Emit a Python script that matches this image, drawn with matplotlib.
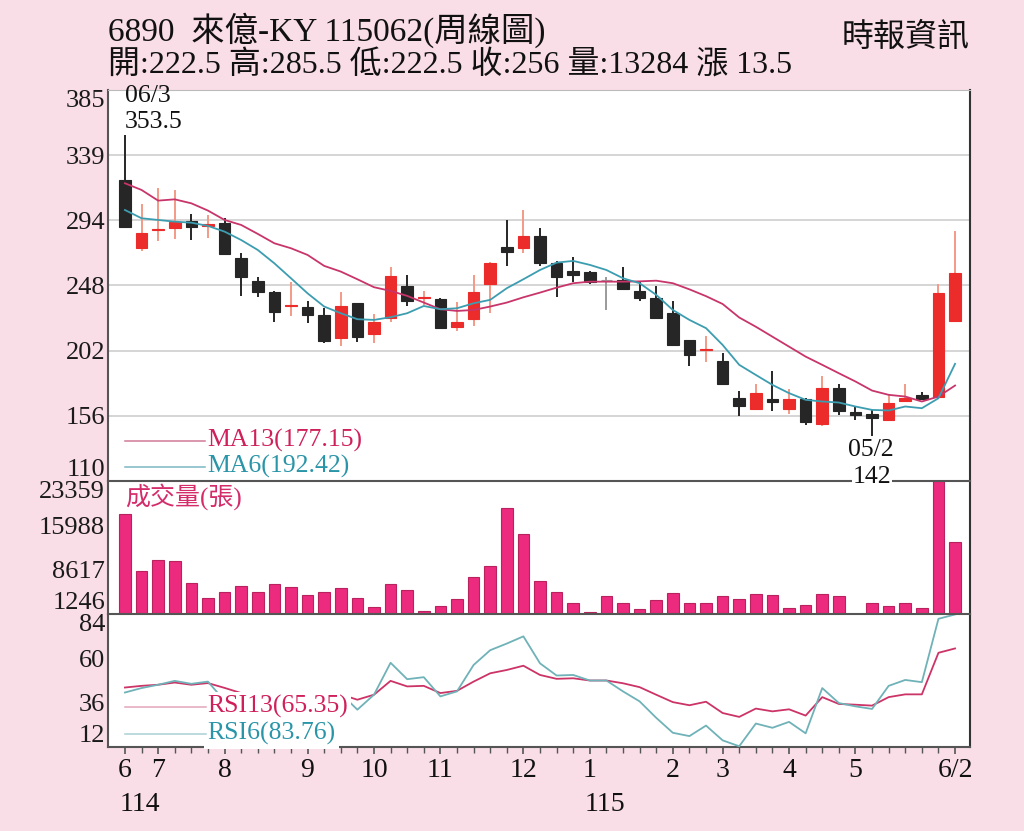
import numpy as np
import matplotlib
matplotlib.use("Agg")
import matplotlib.pyplot as plt
import matplotlib.transforms as mtransforms

plt.rcParams['font.family'] = ['Liberation Serif', 'Noto Sans CJK TC', 'DejaVu Sans']

# ============================================================
# Weekly data (index 0 = first week of 114/06)
# ============================================================
opens = [321.7, 274.1, 286.3, 288.2, 292.6, 289.6, 291.7, 267.1, 250.7, 243.2,
         233.0, 232.4, 226.8, 210.4, 235.5, 213.5, 224.5, 247.4, 238.5, 237.8,
         218.6, 224.0, 248.6, 274.8, 274.1, 282.6, 263.1, 257.7, 256.8, 251.5,
         251.4, 243.9, 238.5, 228.5, 209.2, 201.8, 194.5, 168.7, 160.7, 167.8,
         160.5, 167.8, 149.9, 175.3, 158.4, 157.2, 153.0, 166.4, 170.6, 168.9,
         222.5]
highs = [353.5, 304.8, 315.8, 314.7, 297.8, 297.1, 295.2, 270.6, 253.3, 243.7,
         250.2, 236.9, 231.5, 242.7, 235.5, 227.3, 260.8, 254.9, 243.9, 238.5,
         236.2, 254.9, 263.8, 293.6, 300.6, 287.7, 264.8, 267.8, 258.0, 253.3,
         260.8, 250.2, 247.4, 236.5, 209.2, 211.8, 200.3, 173.3, 178.1, 187.5,
         175.0, 168.2, 183.9, 178.1, 161.9, 160.0, 171.3, 178.1, 172.5, 248.6,
         285.5]
lows = [288.0, 272.0, 278.8, 280.2, 279.5, 281.2, 269.0, 240.2, 239.2, 221.7,
        226.3, 221.4, 206.9, 204.6, 208.1, 207.4, 221.7, 233.4, 233.8, 217.5,
        215.8, 219.3, 228.5, 261.5, 270.6, 261.3, 239.7, 250.2, 248.4, 230.3,
        244.9, 236.9, 223.8, 205.7, 191.0, 193.8, 177.6, 155.8, 160.7, 159.0,
        157.0, 149.5, 149.0, 156.5, 153.0, 142.0, 152.5, 165.4, 167.5, 168.9,
        222.5]
closes = [288.5, 284.2, 287.5, 292.4, 288.9, 290.8, 269.7, 253.5, 243.2, 228.7,
          233.8, 226.8, 208.8, 233.4, 211.1, 221.7, 254.2, 236.9, 239.5, 217.9,
          221.7, 242.7, 263.6, 271.3, 282.6, 263.1, 253.8, 254.9, 250.2, 251.5,
          244.9, 238.5, 224.5, 205.9, 198.7, 202.6, 178.3, 162.4, 171.8, 165.6,
          167.5, 151.4, 175.3, 158.9, 156.5, 154.2, 165.2, 168.2, 167.5, 242.5,
          256.0]
volumes = [17860, 8390, 10156, 10045, 6418, 3941, 4926, 5916, 4821, 6306,
           5756, 4381, 4926, 5646, 3941, 2346, 6196, 5316, 1796, 2621,
           3666, 7406, 9276, 18790, 14556, 6691, 4926, 3111, 1631, 4216,
           3111, 2071, 3556, 4766, 3111, 3006, 4216, 3721, 4546, 4381,
           2236, 2731, 4546, 4216, 1246, 3111, 2566, 3111, 2291, 23359,
           13284]
ma13 = [319.4, 314.7, 307.2, 308.1, 305.3, 300.2, 293.6, 290.1, 283.8, 277.2,
        273.7, 269.0, 261.3, 257.3, 251.9, 246.3, 243.7, 240.2, 235.5, 230.8,
        229.6, 230.3, 232.7, 235.5, 239.2, 242.5, 246.0, 249.1, 250.2, 250.2,
        250.2, 250.4, 250.9, 249.1, 244.8, 240.0, 234.5, 225.0, 218.5, 211.5,
        204.5, 197.5, 191.7, 185.8, 180.0, 173.6, 170.6, 169.4, 165.9, 169.4,
        177.15]
ma6 = [300.6, 294.8, 293.6, 292.4, 291.7, 289.4, 285.4, 279.5, 272.5, 263.1,
       252.6, 242.0, 232.7, 228.0, 223.8, 223.3, 225.2, 228.0, 233.1, 230.8,
       231.5, 235.0, 237.4, 245.6, 251.9, 258.4, 263.6, 264.8, 262.0, 258.4,
       252.6, 249.1, 240.9, 230.3, 223.3, 217.5, 205.7, 191.7, 184.6, 177.6,
       171.8, 167.1, 165.9, 165.2, 162.4, 160.0, 159.6, 162.4, 161.2, 168.2,
       192.42]
# weeks 7-12 sit behind the legend text and cannot be read
rsi13 = [44.2, 45.1, 45.7, 46.9, 45.7, 46.6, 44.0, 41.2, 36.0, 34.0,
         33.0, 33.0, 32.5, 40.5, 37.6, 40.3, 47.8, 44.8, 45.1, 41.2,
         42.4, 47.4, 51.9, 53.7, 56.0, 51.0, 48.9, 49.2, 48.0, 48.0,
         46.5, 44.4, 40.3, 36.3, 34.6, 36.5, 30.4, 28.3, 32.8, 31.3,
         32.4, 29.0, 39.0, 35.3, 34.9, 34.4, 39.0, 40.5, 40.5, 63.0,
         65.35]
rsi6 = [41.5, 43.9, 45.7, 47.8, 46.2, 47.4, 37.0, 31.0, 22.0, 19.0,
        20.0, 18.0, 19.0, 41.0, 32.2, 40.3, 57.6, 48.7, 49.8, 39.4,
        42.1, 56.4, 64.4, 68.0, 71.9, 57.3, 50.7, 51.0, 48.0, 48.0,
        42.1, 36.7, 27.8, 19.7, 17.9, 23.6, 15.6, 12.4, 24.7, 22.4,
        25.6, 19.4, 43.9, 35.8, 34.0, 32.6, 45.1, 48.3, 47.1, 81.4,
        83.76]

month_idx = [0, 2, 6, 11, 15, 19, 24, 28, 33, 36, 40, 44, 50]
month_labels = ['6', '7', '8', '9', '10', '11', '12', '1', '2', '3', '4', '5', '6/2']
year_idx = [0, 28]
year_labels = ['114', '115']

price_ticks = [110, 155.83, 201.67, 247.5, 293.33, 339.17, 385]
price_tick_labels = ['110', '156', '202', '248', '294', '339', '385']
vol_ticks = [1246, 8617, 15988, 23359]
rsi_ticks = [12, 36, 60, 84]

title = '6890  來億-KY 115062(周線圖)'
subtitle = '開:222.5 高:285.5 低:222.5 收:256 量:13284 漲 13.5'
source = '時報資訊'

# ============================================================
# Styles
# ============================================================
BG = '#f9dde7'
UP = '#ec2b2b'
UP_WICK = '#f29a86'
DOWN = '#262626'
FLAT = '#9a9a9a'
C_MA13 = '#c8356a'
C_MA6 = '#3d9db0'
C_VOL = '#ec2a7e'
AXC = '#555555'

o = np.array(opens)
c = np.array(closes)
x = np.arange(len(o))
up = c > o
down = c < o
body_col = np.where(up, UP, np.where(down, DOWN, FLAT))
wick_col = np.where(up, UP_WICK, np.where(down, DOWN, FLAT))

fig = plt.figure(figsize=(10.24, 8.31), dpi=100, facecolor=BG)
L, W = 108 / 1024, 862 / 1024
ax_p = fig.add_axes([L, (831 - 481) / 831, W, 391 / 831], zorder=3)
ax_v = fig.add_axes([L, (831 - 614) / 831, W, 133 / 831], zorder=2)
ax_r = fig.add_axes([L, (831 - 747) / 831, W, 133 / 831], zorder=1)

for ax in (ax_p, ax_v, ax_r):
    ax.set_facecolor('white')
    ax.set_xlim(-1.02, 50.9)
    ax.tick_params(axis='y', length=0, pad=2, labelsize=19, colors='#1a1a1a')
    for s in ('left', 'bottom'):
        ax.spines[s].set_color(AXC)
        ax.spines[s].set_linewidth(1.5)
    ax.spines['right'].set_color('#333333')
    ax.spines['right'].set_linewidth(1.5)
ax_p.spines['top'].set_color('#bbbbbb')
ax_v.spines['top'].set_visible(False)
ax_r.spines['top'].set_visible(False)
ax_p.set_xticks([])
ax_v.set_xticks([])


def edge_labels(ax):
    labs = ax.get_yticklabels()
    labs[0].set_verticalalignment('bottom')
    labs[-1].set_verticalalignment('top')


# ---- Price panel ----
ax_p.set_ylim(110, 385)
ax_p.set_yticks(price_ticks)
ax_p.set_yticklabels(price_tick_labels)
edge_labels(ax_p)
for v in price_ticks[1:-1]:
    ax_p.axhline(v, color='#d2d2d2', lw=1.3, zorder=0)

ax_p.vlines(x, lows, highs, colors=wick_col, lw=1.4, zorder=2)
ax_p.bar(x, np.abs(c - o), bottom=np.minimum(o, c), width=0.7,
         color=body_col, edgecolor=body_col, lw=0.8, zorder=3)
ax_p.plot(x, ma13, color=C_MA13, lw=1.3, zorder=4)
ax_p.plot(x, ma6, color=C_MA6, lw=1.3, zorder=4)

ax_p.text(0, 380.5, '06/3', fontsize=18.5, ha='left', va='center', color='#111')
ax_p.text(0, 362.5, '353.5', fontsize=18.5, ha='left', va='center', color='#111')
ax_p.text(44.9, 131.9, '05/2', fontsize=18.5, ha='center', va='center', color='#111')
ax_p.text(45.0, 113.0, '142', fontsize=18.5, ha='center', va='center', color='#111',
          clip_on=False, zorder=6,
          bbox=dict(facecolor='white', edgecolor='none', pad=0.5))

ax_p.plot([0, 4.8], [138.3, 138.3], color='#d07a96', lw=1.1, zorder=7)
ax_p.plot([0, 4.8], [120.0, 120.0], color='#7ab8c4', lw=1.1, zorder=7)
ax_p.text(4.95, 138.3, 'MA13(177.15)', fontsize=18.5, color='#d0205a',
          ha='left', va='center', zorder=6)
ax_p.text(4.95, 120.0, 'MA6(192.42)', fontsize=18.5, color='#2a95a8',
          ha='left', va='center', zorder=6, clip_on=False,
          bbox=dict(facecolor='white', edgecolor='none', pad=0.5))

# ---- Volume panel ----
ax_v.set_ylim(1246, 23359)
ax_v.set_yticks(vol_ticks)
ax_v.set_yticklabels([str(v) for v in vol_ticks])
edge_labels(ax_v)
ax_v.bar(x, volumes, width=0.7, color=C_VOL, edgecolor='#b8235e', lw=0.8)
ax_v.text(0, 0.88, '成交量(張)', transform=mtransforms.blended_transform_factory(
    ax_v.transData, ax_v.transAxes), fontsize=18, color='#d42c6a',
    ha='left', va='center')

# ---- RSI panel ----
ax_r.set_ylim(12, 84)
ax_r.set_yticks(rsi_ticks)
ax_r.set_yticklabels([str(v) for v in rsi_ticks])
edge_labels(ax_r)
ax_r.plot(x, rsi13, color='#cc3366', lw=1.3, zorder=3)
ax_r.plot(x, rsi6, color='#6fb2b8', lw=1.3, zorder=3)
ax_r.text(4.95, 33.8, 'RSI13(65.35)', fontsize=18.5, color='#d0205a',
          ha='left', va='center', zorder=6,
          bbox=dict(facecolor='white', edgecolor='none', pad=2.5))
ax_r.text(4.95, 19.3, 'RSI6(83.76)', fontsize=18.5, color='#2a95a8',
          ha='left', va='center', zorder=6,
          bbox=dict(facecolor='white', edgecolor='none', pad=2.5))
ax_r.plot([0, 4.9], [33.8, 33.8], color='#e2a6ba', lw=1.1, zorder=7)
ax_r.plot([0, 4.9], [19.3, 19.3], color='#a9d0d5', lw=1.1, zorder=7)

ax_r.set_xticks(month_idx)
ax_r.set_xticklabels(month_labels)
ax_r.set_xticks(x, minor=True)
ax_r.tick_params(axis='x', which='major', length=5, width=1.2, color=AXC,
                 labelsize=20, pad=3, labelcolor='#111')
ax_r.tick_params(axis='x', which='minor', length=4, width=1.0, color=AXC)
trans = mtransforms.blended_transform_factory(ax_r.transData, ax_r.transAxes)
for xi, lab in zip(year_idx, year_labels):
    ax_r.text(xi - 0.32, -0.43, lab, transform=trans, fontsize=20,
              ha='left', va='center', color='#111')

# ---- Header ----
fig.text(L, 1 - 30 / 831, title, fontsize=24, ha='left', va='center', color='#111')
fig.text(L, 1 - 66 / 831, subtitle, fontsize=23, ha='left', va='center', color='#111')
fig.text(970 / 1024, 1 - 38 / 831, source, fontsize=23, ha='right', va='center', color='#111')

fig.savefig('out.png', dpi=100, facecolor=BG)
